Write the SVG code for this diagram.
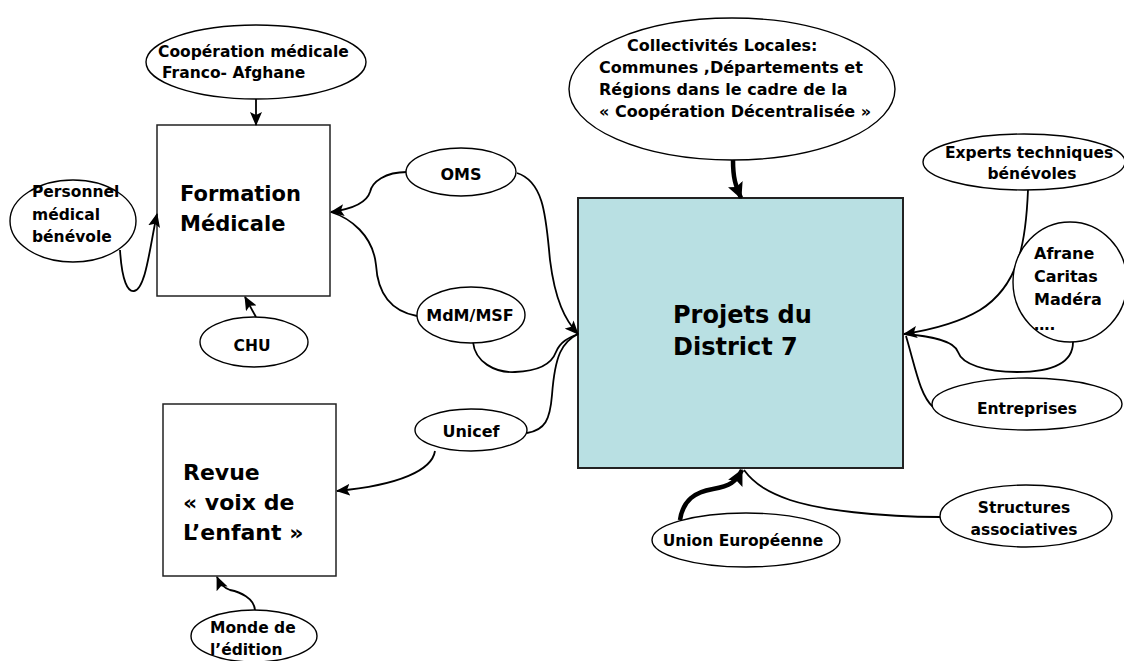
<svg xmlns="http://www.w3.org/2000/svg" width="1124" height="661" viewBox="0 0 1124 661">
<defs>
<style>
text{font-family:"Comic Sans MS","DejaVu Sans",sans-serif;font-weight:bold;fill:#000}
.s{font-size:15.5px}
.m{font-size:16px}
.b{font-size:21px}
.l{font-size:24px}
.c{text-anchor:middle}
ellipse{fill:#fff;stroke:#000;stroke-width:1.4}
.box{fill:#fff;stroke:#222;stroke-width:1.5}
.main{fill:#b9e0e3;stroke:#222;stroke-width:2}
.conn path{fill:none;stroke:#000;stroke-width:1.8}
.conn path.thick{stroke-width:4.5}
</style>
<marker id="ah" markerUnits="userSpaceOnUse" markerWidth="14" markerHeight="12" viewBox="0 0 14 12" refX="13" refY="6" orient="auto">
<path d="M0,0 L14,6 L0,12 L3,6 z" fill="#000"/>
</marker>
<marker id="ahT" markerUnits="userSpaceOnUse" markerWidth="16" markerHeight="16" viewBox="0 0 16 16" refX="15" refY="8" orient="auto">
<path d="M0,0 L16,8 L0,16 L3,8 z" fill="#000"/>
</marker>
</defs>
<rect width="1124" height="661" fill="#fff"/>

<g id="formation"><rect class="box" x="157" y="125" width="173" height="171"/>
<text class="b" x="180" y="201">Formation</text><text class="b" x="180" y="231">Médicale</text></g>

<g id="revue"><rect class="box" x="163" y="404" width="173" height="172"/>
<text class="b" style="font-size:22px" x="183" y="480">Revue</text>
<text class="b" style="font-size:22px" x="183" y="510">« voix de</text>
<text class="b" style="font-size:22px" x="183" y="540">L’enfant »</text></g>

<g id="projets"><rect class="main" x="578" y="198" width="325" height="270"/>
<text class="l" x="673" y="323">Projets du</text><text class="l" x="673" y="355">District 7</text></g>

<g class="conn" id="connectors">
<path d="M256,98 L256,125" marker-end="url(#ah)"/>
<path d="M120,250 C122,282 128,292 134,291 C146,289 150,245 157,214" marker-end="url(#ah)"/>
<path d="M256,317 L245,297" marker-end="url(#ah)"/>
<path d="M407,172 C385,172 372,182 370,192 C366,205 345,210 331,212" marker-end="url(#ah)"/>
<path d="M417,316 C395,312 378,298 376,265 C373,235 350,218 331,212"/>
<path d="M517,173 C545,182 546,220 550,260 C555,300 565,320 578,334" marker-end="url(#ah)"/>
<path d="M473,342 C475,362 495,373 515,372 C545,371 553,360 556,352 C560,342 568,338 578,334"/>
<path d="M527,433 C545,430 550,420 552,395 C555,355 562,342 578,334"/>
<path d="M435,451 C432,470 400,485 337,491" marker-end="url(#ah)"/>
<path d="M255,610 C254,598 240,592 230,590 C224,588 220,584 217,577" marker-end="url(#ah)"/>
<path class="thick" d="M733,160 C733,180 736,186 741,198" marker-end="url(#ahT)"/>
<path d="M1028,190 C1026,240 1020,285 980,310 C960,322 930,330 904,334" marker-end="url(#ah)"/>
<path d="M1073,342 C1073,368 1040,372 1017,372 C985,372 962,364 958,352 C954,340 930,336 904,334"/>
<path d="M933,407 C920,395 916,370 906,336"/>
<path class="thick" d="M680,520 C683,500 695,492 713,489 C730,486 736,482 742,470" marker-end="url(#ahT)"/>
<path d="M940,517 C880,517 820,510 790,500 C770,493 755,485 744,470"/>
</g>

<g id="coop"><ellipse cx="256" cy="62" rx="110" ry="37"/>
<text class="s" x="158" y="57">Coopération médicale</text><text class="s" x="162" y="78">Franco- Afghane</text></g>

<g id="personnel"><ellipse cx="73" cy="221" rx="63" ry="41"/>
<text class="s" x="32" y="197">Personnel</text><text class="s" x="32" y="220">médical</text><text class="s" x="32" y="242">bénévole</text></g>

<g id="chu"><ellipse cx="254" cy="342" rx="54" ry="25"/>
<text class="s c" x="252" y="351">CHU</text></g>

<g id="oms"><ellipse cx="461" cy="172" rx="55" ry="24"/>
<text class="m c" x="461" y="180">OMS</text></g>

<g id="mdm"><ellipse cx="471" cy="315" rx="54" ry="28"/>
<text class="m c" x="470" y="321">MdM/MSF</text></g>

<g id="unicef"><ellipse cx="471" cy="430" rx="56" ry="21"/>
<text class="m c" x="471" y="437">Unicef</text></g>

<g id="monde"><ellipse cx="254" cy="636" rx="63" ry="26"/>
<text class="s" x="210" y="633">Monde de</text><text class="s" x="210" y="655">l’édition</text></g>

<g id="collectivites"><ellipse cx="732" cy="89" rx="163" ry="71"/>
<text class="m" x="627" y="51">Collectivités Locales:</text>
<text class="m" x="599" y="73">Communes ,Départements et</text>
<text class="m" x="599" y="95">Régions dans le cadre de la</text>
<text class="m" x="599" y="117">« Coopération Décentralisée »</text></g>

<g id="experts"><ellipse cx="1024" cy="162" rx="101" ry="28"/>
<text class="s" x="945" y="158">Experts techniques</text><text class="s c" x="1032" y="179">bénévoles</text></g>

<g id="afrane"><ellipse cx="1070" cy="282" rx="57" ry="60"/>
<text class="m" x="1034" y="259">Afrane</text><text class="m" x="1034" y="282">Caritas</text><text class="m" x="1034" y="305">Madéra</text><text class="s" x="1034" y="330">….</text></g>

<g id="entreprises"><ellipse cx="1027" cy="404" rx="95" ry="26"/>
<text class="s c" x="1027" y="414">Entreprises</text></g>

<g id="union"><ellipse cx="746" cy="540" rx="94" ry="27"/>
<text class="s c" x="743" y="546">Union Européenne</text></g>

<g id="structures"><ellipse cx="1026" cy="516" rx="86" ry="31"/>
<text class="s c" x="1024" y="513">Structures</text><text class="s c" x="1024" y="535">associatives</text></g>
</svg>
